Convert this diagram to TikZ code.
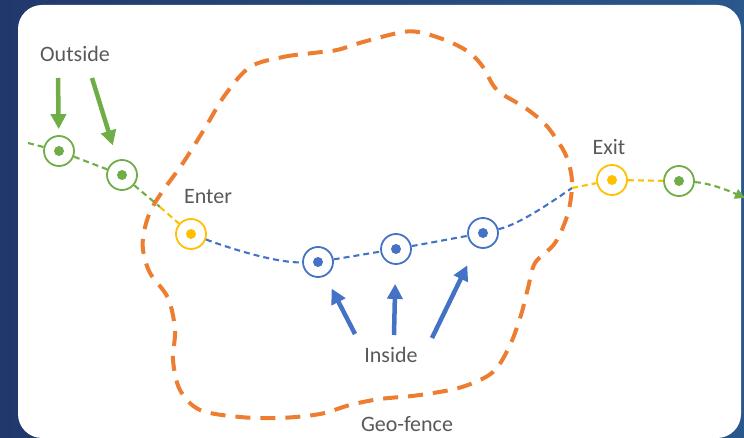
\documentclass[tikz,border=0pt]{standalone}
\usepackage{fontspec}
\setmainfont{Carlito}
\usepackage{tikz}
\usetikzlibrary{arrows.meta, positioning}
\definecolor{gfgreen}{RGB}{112,173,71}
\definecolor{gfyellow}{RGB}{255,192,0}
\definecolor{gfblue}{RGB}{68,114,196}
\definecolor{gforange}{RGB}{237,125,49}
\definecolor{gftext}{RGB}{89,89,89}
\definecolor{bgleft}{RGB}{34,56,108}
\definecolor{bgright}{RGB}{42,88,140}

\begin{document}
\begin{tikzpicture}[
    x=1pt, y=-1pt,
    marker/.style={circle, draw=#1, line width=1.8pt, fill=white,
        minimum size=30pt, inner sep=0pt,
        path picture={\fill[#1] (path picture bounding box.center) circle (5pt);}},
    track/.style={draw=#1, line width=2.1pt, dash pattern=on 6pt off 4pt},
    fat/.style={draw=#1, line width=4.5pt, -{Triangle[width=15pt,length=15pt]}},
    lbl/.style={text=gftext, font=\fontsize{22}{25}\selectfont}
]
\shade[left color=bgleft, right color=bgright] (0,0) rectangle (744,438);
\useasboundingbox (0,0) rectangle (744,438);
\fill[white, rounded corners=24pt] (18,5) rectangle (741,438);

% geo-fence
\draw[gforange, line width=4pt, dash pattern=on 15pt off 10pt]
    plot[smooth cycle, tension=0.55] coordinates {
    (250,67) (283,57) (313,53) (337,50) (363,42) (403,32) (423,33)
    (450,42) (470,53) (483,67) (497,90) (524,107) (544,123) (557,140)
    (567,158) (572,182) (568,213) (555,243) (535,263) (528,288)
    (521,315) (510,345) (493,372) (462,387) (420,395) (380,399)
    (350,405) (320,414) (280,418) (240,417) (200,410) (180,390)
    (173,360) (175,330) (168,298) (150,273) (143,250) (144,232)
    (150,212) (162,192) (183,163) (205,128) (225,95)};

% markers
\node[marker=gfgreen] (g1) at (59,151) {};
\node[marker=gfgreen] (g2) at (122,175) {};
\node[marker=gfyellow] (enter) at (191,234) {};
\node[marker=gfblue] (b1) at (318,262) {};
\node[marker=gfblue] (b2) at (396,249) {};
\node[marker=gfblue] (b3) at (483,233) {};
\node[marker=gfyellow] (exit) at (612,180) {};
\node[marker=gfgreen] (g3) at (679,181) {};
\coordinate (start) at (28,143);
\coordinate (crossin) at (160,207);
\coordinate (crossout) at (572,188);
\coordinate (end) at (745,198);

% track
\draw[track=gfgreen] (start) -- (g1);
\draw[track=gfgreen] (g1) -- (g2);
\draw[track=gfgreen] (g2) -- (crossin);
\draw[track=gfyellow] (crossin) -- (enter);
\draw[track=gfblue] (enter) .. controls (240,252) and (280,263) .. (b1);
\draw[track=gfblue] (b1) -- (b2);
\draw[track=gfblue] (b2) -- (b3);
\draw[track=gfblue] (b3) .. controls (520,224) and (550,203) .. (crossout);
\draw[track=gfyellow] (crossout) -- (exit);
\draw[track=gfyellow] (exit) -- (g3);
\draw[track=gfgreen, -{Triangle[width=10pt,length=10pt]}] (g3) .. controls (708,183) and (725,189) .. (end);

% labels
\node[lbl] (outside) at (75,54) {Outside};
\node[lbl] (enterlbl) at (208,197) {Enter};
\node[lbl] (exitlbl) at (609,147) {Exit};
\node[lbl] (inside) at (391,355) {Inside};
\node[lbl] (fence) at (407,424) {Geo-fence};

% pointers
\coordinate (o1) at (58,78);
\coordinate (o2) at (92,78);
\coordinate (i1) at (355,334);
\coordinate (i2) at (394,335);
\coordinate (i3) at (432,338);
\draw[fat=gfgreen, shorten >=6pt] (o1) -- (g1);
\draw[fat=gfgreen, shorten >=15pt] (o2) -- (g2);
\draw[fat=gfblue, shorten >=14pt] (i1) -- (b1);
\draw[fat=gfblue, shorten >=19pt] (i2) -- (b2);
\draw[fat=gfblue, shorten >=20pt] (i3) -- (b3);
\end{tikzpicture}
\end{document}
